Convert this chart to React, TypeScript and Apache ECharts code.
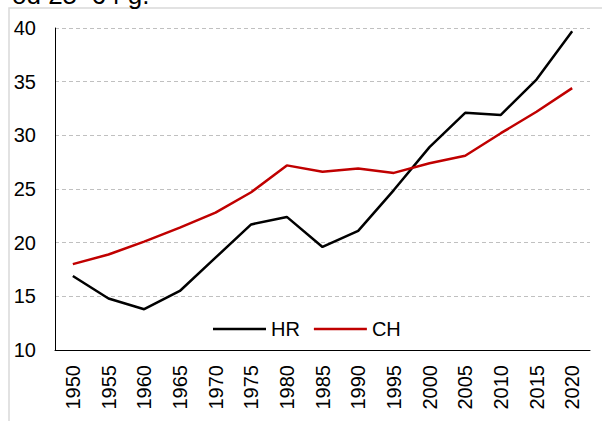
import React, { useEffect, useRef } from "react";
import * as echarts from "echarts";

const years = ["1950","1955","1960","1965","1970","1975","1980","1985","1990","1995","2000","2005","2010","2015","2020"];
const hrValues = [16.9, 14.8, 13.8, 15.5, 18.6, 21.7, 22.4, 19.6, 21.1, 24.9, 28.9, 32.1, 31.9, 35.2, 39.7];
const chValues = [18.0, 18.9, 20.1, 21.4, 22.8, 24.7, 27.2, 26.6, 26.9, 26.5, 27.4, 28.1, 30.2, 32.2, 34.4];
const titleText = "od 25–64 g.";

const FONT = "'Liberation Sans', Arial, sans-serif";

export default function App() {
  const ref = useRef<HTMLDivElement>(null);
  useEffect(() => {
    document.body.style.margin = "0";
    const chart = echarts.init(ref.current!, null, { renderer: "svg" });
    chart.setOption({
      animation: false,
      backgroundColor: "#ffffff",
      textStyle: { fontFamily: FONT },
      graphic: [
        {
          type: "rect",
          shape: { x: 9, y: 8, width: 640, height: 450 },
          style: { fill: "none", stroke: "#d9d9d9", lineWidth: 1.5 },
          silent: true,
        },
        {
          type: "text",
          x: 12,
          y: 8,
          style: {
            text: titleText,
            fontSize: 26,
            fontFamily: FONT,
            fill: "#000",
            verticalAlign: "bottom",
          },
        },
      ],
      grid: { left: 55, right: 12, top: 28, bottom: 71, containLabel: false },
      legend: {
        left: 208,
        top: 314,
        icon: "rect",
        itemWidth: 53,
        itemHeight: 2.5,
        itemGap: 14,
        textStyle: { fontSize: 20, color: "#000", fontFamily: FONT },
        data: ["HR", "CH"],
      },
      xAxis: {
        type: "category",
        data: years,
        boundaryGap: true,
        axisLine: { lineStyle: { color: "#000", width: 1 } },
        axisTick: { show: false },
        axisLabel: { rotate: 90, fontSize: 20, color: "#000", margin: 15, fontFamily: FONT },
        splitLine: { show: false },
      },
      yAxis: {
        type: "value",
        min: 10,
        max: 40,
        interval: 5,
        axisLine: { show: true, lineStyle: { color: "#000", width: 1 } },
        axisTick: { show: false },
        axisLabel: { fontSize: 20, color: "#000", margin: 19, fontFamily: FONT },
        splitLine: { show: true, lineStyle: { color: "#c0c0c0", type: [4, 3], width: 1 } },
      },
      series: [
        {
          name: "HR",
          type: "line",
          data: hrValues,
          symbol: "none",
          lineStyle: { color: "#000000", width: 2.5 },
          itemStyle: { color: "#000000" },
        },
        {
          name: "CH",
          type: "line",
          data: chValues,
          symbol: "none",
          lineStyle: { color: "#c00000", width: 2.5 },
          itemStyle: { color: "#c00000" },
        },
      ],
    });
    return () => chart.dispose();
  }, []);
  return <div ref={ref} style={{ width: 602, height: 421 }} />;
}
